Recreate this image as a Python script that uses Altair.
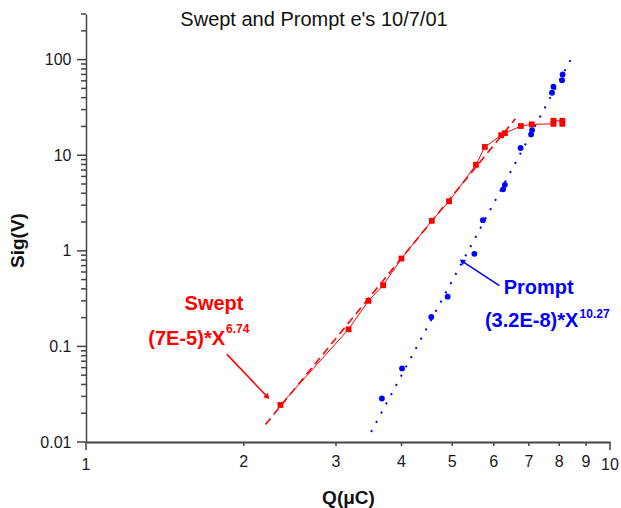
import altair as alt
import pandas as pd

# ---- data ----
swept_q = [2.35, 3.17, 3.46, 3.69, 4.00, 4.57, 4.93, 5.55, 5.77, 6.20, 6.30, 6.76, 7.09, 7.80, 7.80, 8.11, 8.11]
swept_sig = [0.0244, 0.151, 0.30, 0.436, 0.83, 2.06, 3.3, 7.95, 12.2, 16.2, 17.0, 20.2, 21.0, 21.3, 22.9, 22.9, 21.3]

prompt_q = [3.67, 4.01, 4.56, 4.90, 5.51, 5.72, 6.25, 6.30, 6.75, 7.07, 7.10, 7.75, 7.80, 8.10, 8.12]
prompt_sig = [0.0285, 0.0588, 0.203, 0.331, 0.929, 2.09, 4.4, 4.9, 11.9, 16.5, 18.3, 45, 52, 61, 70]

swept_fit_q = [2.2, 6.6]
swept_fit_sig = [0.0152, 24.1]
prompt_fit_q = [3.5, 8.45]
prompt_fit_sig = [0.0127, 104.5]

x_minor = [2, 3, 4, 5, 6, 7, 8, 9]
x_major = [1, 10]
y_major = [0.01, 0.1, 1, 10, 100]
y_minor = [0.02, 0.03, 0.04, 0.05, 0.06, 0.07, 0.08, 0.09,
           0.2, 0.3, 0.4, 0.5, 0.6, 0.7, 0.8, 0.9,
           2, 3, 4, 5, 6, 7, 8, 9,
           20, 30, 40, 50, 60, 70, 80, 90, 200, 300]

title_text = "Swept and Prompt e's 10/7/01"
RED = "#FF0000"
BLUE = "#0000FF"
FONT = "Liberation Sans"
AXC = "#444444"
LABC = "#1a1a1a"

# ---- scales & axes ----
xscale = alt.Scale(type="log", domain=[1, 10], nice=False)
yscale = alt.Scale(type="log", domain=[0.01, 300], nice=False)

xaxis = alt.Axis(
    values=x_major + x_minor, grid=False, labels=False,
    tickSize=4, tickOpacity=0, domainColor=AXC, domainWidth=2,
    title="Q(μC)", titleFont=FONT, titleFontSize=19, titleFontWeight="bold", titleColor="#111111",
    titleX=262, titleY=61, titleBaseline="alphabetic", titleAlign="center",
)
yaxis = alt.Axis(
    values=y_major, format="~g", grid=False,
    tickSize=5, tickOpacity=0, domainColor=AXC, domainWidth=1.5,
    labelFont=FONT, labelFontSize=16, labelColor=LABC, labelPadding=10,
    labelOverlap=False, labelFlush=False,
    title="Sig(V)", titleFont=FONT, titleFontSize=19, titleFontWeight="bold", titleColor="#111111",
    titleX=-69, titleY=226, titleAngle=-90, titleAlign="center", titleBaseline="middle",
)


def X(field="q"):
    return alt.X(f"{field}:Q", scale=xscale, axis=xaxis)


def Y(field="sig"):
    return alt.Y(f"{field}:Q", scale=yscale, axis=yaxis)


swept_df = pd.DataFrame({"q": swept_q, "sig": swept_sig, "i": range(len(swept_q))})
prompt_df = pd.DataFrame({"q": prompt_q, "sig": prompt_sig})
sfit_df = pd.DataFrame({"q": swept_fit_q, "sig": swept_fit_sig})
pfit_df = pd.DataFrame({"q": prompt_fit_q, "sig": prompt_fit_sig})

sfit = alt.Chart(sfit_df).mark_line(color=RED, strokeWidth=1.6, strokeDash=[8, 5]).encode(x=X(), y=Y())
pfit = alt.Chart(pfit_df).mark_line(color=BLUE, strokeWidth=2, strokeDash=[2, 8.5]).encode(x=X(), y=Y())
sline = alt.Chart(swept_df).mark_line(color=RED, strokeWidth=1).encode(x=X(), y=Y(), order="i:O")
spts = alt.Chart(swept_df).mark_square(color=RED, size=34, opacity=1).encode(x=X(), y=Y())
ppts = alt.Chart(prompt_df).mark_circle(color=BLUE, size=34, opacity=1).encode(x=X(), y=Y())

# ---- axis ticks and x labels drawn as layers ----
ymaj = alt.Chart(pd.DataFrame({"sig": y_major})).mark_rule(color=AXC, strokeWidth=1.5).encode(
    y=Y(), x=alt.value(-9), x2=alt.value(0))
ymin = alt.Chart(pd.DataFrame({"sig": y_minor})).mark_rule(color=AXC, strokeWidth=1.5).encode(
    y=Y(), x=alt.value(-5), x2=alt.value(0))
xmaj = alt.Chart(pd.DataFrame({"q": x_major})).mark_rule(color=AXC, strokeWidth=1.5).encode(
    x=X(), y=alt.value(428), y2=alt.value(436))
xmin = alt.Chart(pd.DataFrame({"q": x_minor})).mark_rule(color=AXC, strokeWidth=1.5).encode(
    x=X(), y=alt.value(428), y2=alt.value(432))
xlab_maj = alt.Chart(pd.DataFrame({"q": x_major, "t": [str(v) for v in x_major]})).mark_text(
    font=FONT, fontSize=16, color=LABC, align="center", baseline="alphabetic").encode(
    x=X(), y=alt.value(456), text="t:N")
xlab_min = alt.Chart(pd.DataFrame({"q": x_minor, "t": [str(v) for v in x_minor]})).mark_text(
    font=FONT, fontSize=16, color=LABC, align="center", baseline="alphabetic").encode(
    x=X(), y=alt.value(453), text="t:N")

# ---- annotations (data coordinates) ----
arrow_q = [1.856, 6.15]
arrow_sig = [0.083, 0.432]
arrow_q2 = [2.213, 5.236]
arrow_sig2 = [0.0301, 0.771]
arrow_color = [RED, BLUE]
arrow_angle = [136, 303]

arr_df = pd.DataFrame({"q": arrow_q, "sig": arrow_sig, "q2": arrow_q2, "sig2": arrow_sig2,
                       "c": arrow_color, "a": arrow_angle})
arrows = alt.Chart(arr_df).mark_rule(strokeWidth=1.5).encode(
    x=X(), y=Y(), x2="q2:Q", y2="sig2:Q", color=alt.Color("c:N", scale=None))
heads = alt.Chart(arr_df).mark_point(shape="triangle", filled=True, size=40, opacity=1).encode(
    x=X("q2"), y=Y("sig2"), color=alt.Color("c:N", scale=None), angle=alt.Angle("a:Q", scale=None))

name_text = ["Swept", "Prompt"]
name_q = [1.755, 7.31]
name_sig = [0.240, 0.353]
formula_text = ["(7E-5)*X", "(3.2E-8)*X"]
formula_q = [1.842, 8.70]
formula_sig = [0.1032, 0.1605]
exp_text = ["6.74", "10.27"]
exp_q = [1.850, 8.75]
exp_sig = [0.1378, 0.1966]


def text_layer(q, sig, t, size, align):
    df = pd.DataFrame({"q": q, "sig": sig, "t": t, "c": [RED, BLUE]})
    return alt.Chart(df).mark_text(
        font=FONT, fontSize=size, fontWeight="bold", align=align, baseline="alphabetic"
    ).encode(x=X(), y=Y(), text="t:N", color=alt.Color("c:N", scale=None))


names = text_layer(name_q, name_sig, name_text, 20, "center")
formulas = text_layer(formula_q, formula_sig, formula_text, 20, "right")
exps = text_layer(exp_q, exp_sig, exp_text, 12, "left")

title = alt.Chart(pd.DataFrame({"t": [title_text]})).mark_text(
    font=FONT, fontSize=20, color="#111111", align="center", baseline="alphabetic"
).encode(x=alt.value(228), y=alt.value(12), text="t:N")

chart = alt.layer(
    sfit, pfit, sline, spts, ppts, ymaj, ymin, xmaj, xmin, xlab_maj, xlab_min,
    arrows, heads, names, formulas, exps, title
).properties(
    width=524, height=428,
    padding={"left": 86, "top": 14, "right": 11, "bottom": 66},
    autosize=alt.AutoSizeParams(type="none"),
).configure_view(stroke=None)

chart.save("out.html", embed_options={"renderer": "svg", "actions": False})
